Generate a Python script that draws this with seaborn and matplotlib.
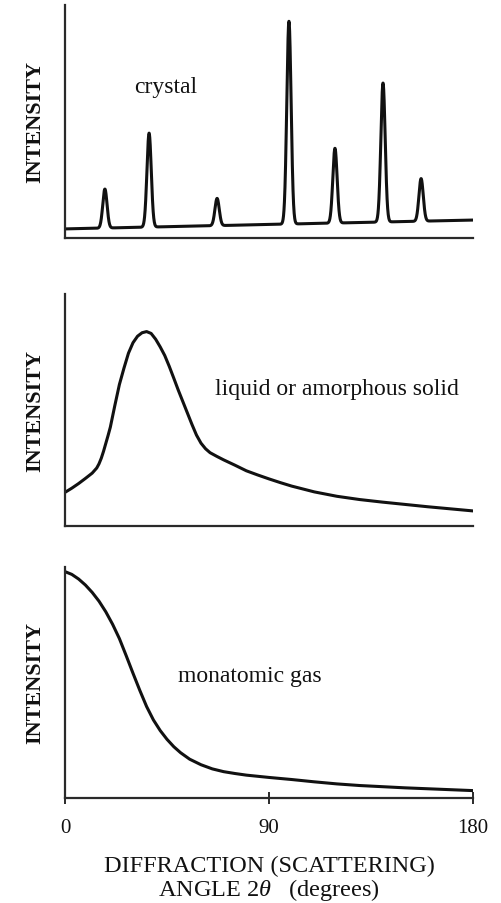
import numpy as np
import pandas as pd
import matplotlib
matplotlib.use("Agg")
import matplotlib.pyplot as plt
import seaborn as sns

# ---- data -------------------------------------------------------------
# crystal: Bragg peaks (angle 2θ in degrees, peak intensity) on a sloping background
peak_angle = [17.6, 37.1, 67.1, 98.8, 119.1, 140.3, 157.1]
peak_height = [0.21, 0.45, 0.17, 0.93, 0.385, 0.665, 0.255]
peak_sigma = 0.95
background_ends = [0.039, 0.077]   # background at 0° and 180°

# liquid or amorphous solid: one broad maximum, then a slow decay
liquid_angle = [0, 3, 6, 9, 12, 14, 15, 16, 17, 18, 19, 20, 22, 24, 26, 28, 30, 32,
                34, 36, 38, 40, 42, 44, 46, 48, 50, 52, 54, 56, 58, 60, 62, 64, 67,
                70, 75, 80, 85, 90, 95, 100, 110, 120, 130, 140, 150, 160, 170, 180]
liquid_intensity = [0.145, 0.163, 0.183, 0.205, 0.228, 0.250, 0.268, 0.292, 0.322,
                    0.356, 0.390, 0.426, 0.520, 0.610, 0.680, 0.745, 0.790, 0.818,
                    0.833, 0.838, 0.830, 0.805, 0.772, 0.735, 0.688, 0.637, 0.585,
                    0.536, 0.487, 0.438, 0.392, 0.357, 0.333, 0.316, 0.300, 0.285,
                    0.262, 0.238, 0.220, 0.203, 0.187, 0.172, 0.147, 0.128, 0.114,
                    0.103, 0.093, 0.083, 0.074, 0.065]

# monatomic gas: monotonic fall-off from the forward direction
gas_angle = [0, 3, 6, 9, 12, 15, 18, 21, 24, 27, 30, 33, 36, 39, 42, 45, 48, 51, 55,
             60, 65, 70, 75, 80, 90, 100, 110, 120, 130, 140, 150, 160, 170, 180]
gas_intensity = [0.980, 0.968, 0.948, 0.922, 0.890, 0.852, 0.806, 0.752, 0.690,
                 0.616, 0.540, 0.466, 0.396, 0.338, 0.292, 0.254, 0.222, 0.196,
                 0.168, 0.144, 0.126, 0.114, 0.106, 0.099, 0.089, 0.080, 0.070,
                 0.061, 0.054, 0.049, 0.044, 0.040, 0.036, 0.032]

x_ticks = [0, 90, 180]
x_tick_labels = ["0", "90", "180"]
panel_labels = ["crystal", "liquid or amorphous solid", "monatomic gas"]

# ---- crystal trace from the peak list ---------------------------------
theta = np.linspace(0, 180, 3601)
background = np.interp(theta, [0, 180], background_ends)
crystal = background.copy()
for a, h in zip(peak_angle, peak_height):
    amp = h - np.interp(a, [0, 180], background_ends)
    crystal += amp * np.exp(-0.5 * ((theta - a) / peak_sigma) ** 2)

crystal_df = pd.DataFrame({"angle": theta, "intensity": crystal})
liquid_df = pd.DataFrame({"angle": liquid_angle, "intensity": liquid_intensity})
gas_df = pd.DataFrame({"angle": gas_angle, "intensity": gas_intensity})

# ---- style --------------------------------------------------------------
sns.set_theme(style="white")
plt.rcParams["font.family"] = ["Liberation Serif", "DejaVu Serif"]
plt.rcParams["mathtext.fontset"] = "custom"
plt.rcParams["mathtext.rm"] = "Liberation Serif"
plt.rcParams["mathtext.it"] = "Liberation Serif:italic"

fig = plt.figure(figsize=(5.01, 9.04), dpi=100)
W, H = 501, 904
left_px, width_px = 65, 408
panels = [(6, 239), (295, 527), (568, 799)]   # top / bottom of each axes box
axes = []
for top, bottom in panels:
    ax = fig.add_axes([left_px / W, 1 - bottom / H, width_px / W, (bottom - top) / H])
    axes.append(ax)

label_pos = [(44.6, 0.627), (119.8, 0.569), (81.4, 0.506)]
frames = [crystal_df, liquid_df, gas_df]

for i, (ax, df) in enumerate(zip(axes, frames)):
    sns.lineplot(data=df, x="angle", y="intensity", ax=ax, color="#111111",
                 linewidth=2.2, sort=False, estimator=None)
    ax.set_xlim(0, 180)
    ax.set_ylim(0, 1)
    for side in ("top", "right"):
        ax.spines[side].set_visible(False)
    for side in ("left", "bottom"):
        ax.spines[side].set_color("#2a2a2a")
        ax.spines[side].set_linewidth(1.6)
    ax.set_yticks([])
    ax.set_ylabel("INTENSITY", fontsize=16, fontweight="bold", va="center",
                  color="#111111")
    ax.yaxis.set_label_coords(-0.072, 0.5)
    lx, ly = label_pos[i]
    ax.text(lx, ly, panel_labels[i], fontsize=17, ha="center", va="baseline",
            color="#111111")
    if i < 2:
        ax.set_xticks([])
        ax.set_xlabel("")
    else:
        ax.set_xticks(x_ticks)
        ax.set_xticklabels(x_tick_labels, fontsize=15, color="#111111")
        ax.tick_params(axis="x", direction="inout", length=9, width=1.4,
                       color="#2a2a2a", pad=10, bottom=True)
        ax.set_xlabel("DIFFRACTION (SCATTERING)\nANGLE 2$\\it{\\theta}$   (degrees)",
                      fontsize=17.5, color="#111111", linespacing=0.98, labelpad=13)

fig.savefig("out.png", dpi=100)
